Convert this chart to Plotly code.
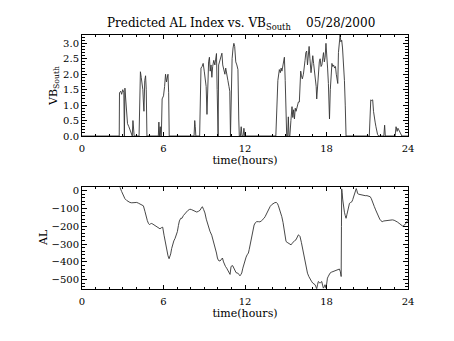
import plotly.graph_objects as go
from plotly.subplots import make_subplots

# ---- data ----
vb_hours = [0.0, 2.74, 2.76, 2.85, 2.92, 3.0, 3.08, 3.12, 3.16, 3.22, 3.28, 3.35, 3.45, 3.55, 3.65, 3.70, 3.75, 3.80, 3.84,
            4.20, 4.24, 4.30, 4.36, 4.42, 4.48, 4.52, 4.56, 4.62, 4.68, 4.73, 4.78,
            5.62, 5.66, 5.70, 5.76, 5.80, 5.84, 5.90, 6.00, 6.08, 6.15, 6.22, 6.28, 6.33, 6.38, 6.42,
            8.25, 8.30, 8.34, 8.38, 8.66, 8.70, 8.76, 8.84, 8.92, 9.00, 9.08, 9.14, 9.20, 9.26, 9.32, 9.38, 9.44,
            9.50, 9.56, 9.62, 9.70, 9.78, 9.85, 9.90, 9.95, 9.98, 10.02, 10.06, 10.14, 10.22, 10.30, 10.36, 10.44,
            10.52, 10.58, 10.66, 10.74, 10.82, 10.88, 10.93, 10.98, 11.05, 11.12, 11.18, 11.24, 11.32, 11.40, 11.48,
            11.54, 11.58, 11.66, 11.72, 11.78, 11.86, 11.92, 11.98,
            14.27, 14.33, 14.42, 14.53, 14.60, 14.66, 14.72, 14.80, 14.90, 14.96, 15.02, 15.07, 15.14, 15.19, 15.24,
            15.30, 15.38, 15.46, 15.52, 15.58, 15.64, 15.70, 15.76, 15.86, 15.93, 16.00, 16.05, 16.10, 16.16, 16.22,
            16.30, 16.36, 16.42, 16.48, 16.54, 16.60, 16.66, 16.72, 16.78, 16.86, 16.92, 16.99, 17.05, 17.12, 17.18,
            17.24, 17.28, 17.34, 17.40, 17.47, 17.53, 17.60, 17.66, 17.72, 17.78, 17.84, 17.90, 17.96, 18.02, 18.08,
            18.14, 18.18, 18.22, 18.28, 18.34, 18.40, 18.46, 18.52, 18.60, 18.66, 18.72, 18.78, 18.83, 18.88, 18.94,
            19.00, 19.06, 19.12, 19.18, 19.24, 19.32, 19.38, 19.44,
            21.15, 21.20, 21.26, 21.32, 21.40, 21.46, 21.52, 21.58, 21.64, 21.70, 21.76, 21.84,
            22.22, 22.28, 22.33, 23.05, 23.12, 23.20, 23.26, 23.32, 23.40, 23.46, 23.55, 24.0]
vb_values = [0.0, 0.0, 1.40, 1.45, 1.35, 1.50, 1.40, 0.0, 1.55, 1.20, 0.60, 0.40, 0.30, 0.20, 0.05, 0.0, 0.50, 0.30, 0.0,
             0.0, 1.80, 2.08, 1.90, 1.70, 1.50, 1.10, 0.80, 1.80, 1.95, 1.50, 0.0,
             0.0, 0.45, 0.0, 0.30, 0.0, 0.0, 1.20, 1.30, 1.60, 2.00, 1.75, 1.90, 2.00, 1.40, 0.0,
             0.0, 0.50, 0.30, 0.0, 0.0, 1.80, 2.20, 2.25, 2.35, 2.10, 1.85, 1.60, 0.70, 1.90, 2.40, 2.55, 2.10,
             2.30, 1.90, 2.25, 2.45, 2.30, 2.60, 2.67, 1.50, 0.0, 0.0, 2.30, 2.45, 2.60, 2.68, 2.30, 2.15,
             2.00, 2.20, 2.05, 1.80, 1.60, 1.45, 0.0, 1.80, 2.50, 2.85, 3.00, 2.90, 2.40, 2.30, 2.15,
             0.55, 0.0, 0.0, 0.30, 0.0, 0.0, 0.25, 0.0,
             0.0, 1.00, 1.80, 2.15, 2.05, 2.20, 2.10, 2.30, 2.55, 1.80, 0.30, 0.0, 0.0, 0.62, 0.0,
             0.0, 0.50, 0.95, 0.60, 0.85, 0.55, 0.90, 0.80, 1.00, 1.10, 1.10, 1.80, 2.10, 1.95, 1.85,
             2.00, 2.40, 2.45, 2.70, 2.75, 2.30, 2.60, 2.90, 2.50, 2.05, 2.30, 2.60, 2.35, 2.05, 2.00,
             1.60, 1.20, 1.70, 2.05, 2.40, 2.50, 2.25, 2.30, 2.50, 2.70, 2.40, 2.55, 3.00, 2.30, 2.20,
             1.70, 1.20, 0.55, 1.50, 2.10, 2.35, 2.25, 2.30, 2.20, 2.25, 2.00, 1.80, 1.70, 2.70, 3.20,
             3.27, 3.05, 3.10, 2.85, 2.50, 1.80, 1.00, 0.0,
             0.0, 0.70, 1.17, 1.15, 1.17, 0.80, 0.55, 0.45, 0.30, 0.15, 0.05, 0.0,
             0.0, 0.35, 0.0, 0.0, 0.30, 0.15, 0.25, 0.20, 0.12, 0.05, 0.0, 0.0]

al_hours = [2.60, 2.80, 2.92, 3.04, 3.16, 3.29, 3.41, 3.53, 3.66, 3.78, 3.90, 4.03, 4.15, 4.27, 4.40, 4.52, 4.64, 4.72,
            4.81, 4.90, 4.96, 5.05, 5.13, 5.22, 5.30, 5.40, 5.50, 5.62, 5.74, 5.84, 5.94, 6.04, 6.14, 6.24, 6.33,
            6.41, 6.47, 6.53, 6.60, 6.68, 6.76, 6.85, 6.94, 7.02, 7.10, 7.17, 7.27, 7.36, 7.46, 7.56, 7.66, 7.78,
            7.90, 7.95, 8.05, 8.20, 8.33, 8.45, 8.57, 8.69, 8.78, 8.86, 8.95, 9.05, 9.15, 9.30, 9.42, 9.55, 9.68,
            9.80, 9.90, 9.97, 10.05, 10.16, 10.25, 10.34, 10.42, 10.48, 10.56, 10.65, 10.74, 10.82, 10.90, 10.97,
            11.04, 11.10, 11.16, 11.22, 11.28, 11.34, 11.42, 11.51, 11.57, 11.63, 11.70, 11.76, 11.84, 11.93, 12.00,
            12.08, 12.16, 12.25, 12.31, 12.37, 12.45, 12.54, 12.60, 12.67, 12.76, 12.86, 12.98, 13.10, 13.20, 13.30,
            13.40, 13.48, 13.56, 13.65, 13.75, 13.85, 13.97, 14.10, 14.20, 14.30, 14.39, 14.46, 14.53, 14.62, 14.71,
            14.80, 14.88, 14.95, 15.02, 15.10, 15.19, 15.28, 15.39, 15.48, 15.56, 15.66, 15.75, 15.84, 15.93, 16.00,
            16.05, 16.15, 16.25, 16.34, 16.42, 16.50, 16.60, 16.70, 16.79, 16.89, 16.99, 17.08, 17.16, 17.22, 17.28,
            17.34, 17.40, 17.47, 17.53, 17.59, 17.65, 17.71, 17.77, 17.83, 17.89, 17.97, 18.02, 18.07, 18.14, 18.19,
            18.26, 18.35, 18.50, 18.62, 18.75, 18.85, 18.95, 19.02, 19.08, 19.10, 19.12, 19.15, 19.19, 19.25, 19.32,
            19.38, 19.44, 19.50, 19.57, 19.63, 19.69, 19.78, 19.87, 19.93, 19.99, 20.05, 20.11, 20.19, 20.24, 20.29,
            20.38, 20.49, 20.60, 20.73, 20.85, 20.98, 21.10, 21.22, 21.30, 21.35, 21.44, 21.52, 21.62, 21.72, 21.82,
            21.92, 22.00, 22.10, 22.22, 22.35, 22.48, 22.60, 22.72, 22.85, 22.98, 23.10, 23.22, 23.34, 23.46, 23.59,
            23.68, 23.76, 23.84, 23.91, 24.00]
al_values = [40, 18, -5, -30, -45, -55, -62, -66, -68, -66, -64, -66, -70, -76, -80, -85, -118, -145,
             -168, -185, -190, -186, -184, -188, -192, -198, -205, -212, -214, -208, -205, -250, -295, -335, -365,
             -382, -372, -355, -325, -300, -282, -268, -250, -230, -195, -170, -155, -155, -140, -130, -122, -112,
             -106, -104, -106, -112, -118, -120, -116, -110, -98, -90, -105, -125, -160, -200, -228, -250, -285,
             -315, -350, -378, -392, -395, -385, -378, -400, -416, -425, -435, -450, -463, -470, -428,
             -420, -422, -430, -436, -450, -460, -462, -465, -472, -478, -470, -462, -435, -407, -390,
             -373, -360, -350, -330, -304, -265, -230, -210, -193, -180, -174, -174, -175, -170, -164,
             -155, -146, -132, -118, -102, -89, -78, -71, -67, -66, -72, -85, -99, -122, -146,
             -178, -211, -255, -285, -290, -294, -300, -304, -295, -285, -280, -276, -262, -248, -252,
             -257, -290, -332, -370, -407, -430, -463, -482, -497, -508, -519, -524, -528, -540, -550,
             -528, -510, -515, -519, -514, -510, -530, -547, -540, -528, -547, -505, -491, -480, -470,
             -463, -458, -453, -450, -444, -442, -440, -455, -482, -200, 10, -10, -47, -90, -121,
             -140, -155, -135, -108, -85, -71, -66, -62, -50, -34, -12, 3, 12, 0, -16,
             -20, -22, -25, -28, -28, -28, -31, -34, -45, -53, -72, -89, -108, -127, -145,
             -160, -168, -174, -170, -168, -166, -164, -163, -164, -166, -170, -176, -183, -190, -198,
             -196, -192, -185, -174, -165]

x_ticks = [0, 6, 12, 18, 24]
title_text = "Predicted AL Index vs. VB<sub>South</sub>    05/28/2000"

FONT = "DejaVu Serif"
INK = "#333333"

W, H = 454, 341
ml, mr, mt, mb = 82, 46, 35, 52
ph = H - mt - mb
pw = W - ml - mr
top_dom = [(289 - 136) / ph, 1.0]
bot_dom = [0.0, (289 - 187.3) / ph]

fig = make_subplots(rows=2, cols=1)
fig.add_trace(go.Scatter(x=vb_hours, y=vb_values, mode="lines",
                         line=dict(color=INK, width=0.9), showlegend=False), row=1, col=1)
fig.add_trace(go.Scatter(x=al_hours, y=al_values, mode="lines",
                         line=dict(color=INK, width=0.9), showlegend=False), row=2, col=1)

axis_common = dict(showline=True, linecolor="black", linewidth=1, mirror="ticks",
                   ticks="inside", showgrid=False, zeroline=False,
                   tickfont=dict(family=FONT, size=10, color="black"))

for r in (1, 2):
    fig.update_xaxes(range=[0, 24], tickvals=x_ticks, ticklen=4, tickcolor="black",
                     ticklabelstandoff=3,
                     minor=dict(dtick=1, ticklen=2, ticks="inside", tickcolor="black"),
                     title=dict(text="time(hours)", font=dict(family=FONT, size=11, color="black"), standoff=1),
                     row=r, col=1, **axis_common)

fig.update_yaxes(range=[0, 3.27], dtick=0.5, tick0=0, tickformat=".1f", ticklen=5, tickcolor="black",
                 minor=dict(dtick=0.1, ticklen=3, ticks="inside", tickcolor="black"),
                 domain=top_dom, row=1, col=1, **axis_common)
fig.update_yaxes(range=[-552, 19], dtick=100, tick0=0, ticklen=5, tickcolor="black",
                 minor=dict(dtick=20, ticklen=3, ticks="inside", tickcolor="black"),
                 domain=bot_dom, row=2, col=1, **axis_common)

fig.update_layout(
    width=W, height=H,
    margin=dict(l=ml, r=mr, t=mt, b=mb),
    paper_bgcolor="white", plot_bgcolor="white",
    font=dict(family=FONT, color="black"),
    annotations=[
        dict(text=title_text, x=(241 - ml) / pw, y=(H - 24 - mb) / ph, xref="paper", yref="paper",
             showarrow=False, font=dict(family=FONT, size=12, color="black"), xanchor="center", yanchor="middle"),
        dict(text="VB<sub>South</sub>", x=(54 - ml) / pw, y=(289 - 86) / ph, xref="paper", yref="paper",
             showarrow=False, textangle=-90, font=dict(family=FONT, size=11, color="black"),
             xanchor="center", yanchor="middle"),
        dict(text="AL", x=(43 - ml) / pw, y=(289 - 238) / ph, xref="paper", yref="paper",
             showarrow=False, textangle=-90, font=dict(family=FONT, size=11, color="black"),
             xanchor="center", yanchor="middle"),
    ],
)

fig.write_html("out.html")
